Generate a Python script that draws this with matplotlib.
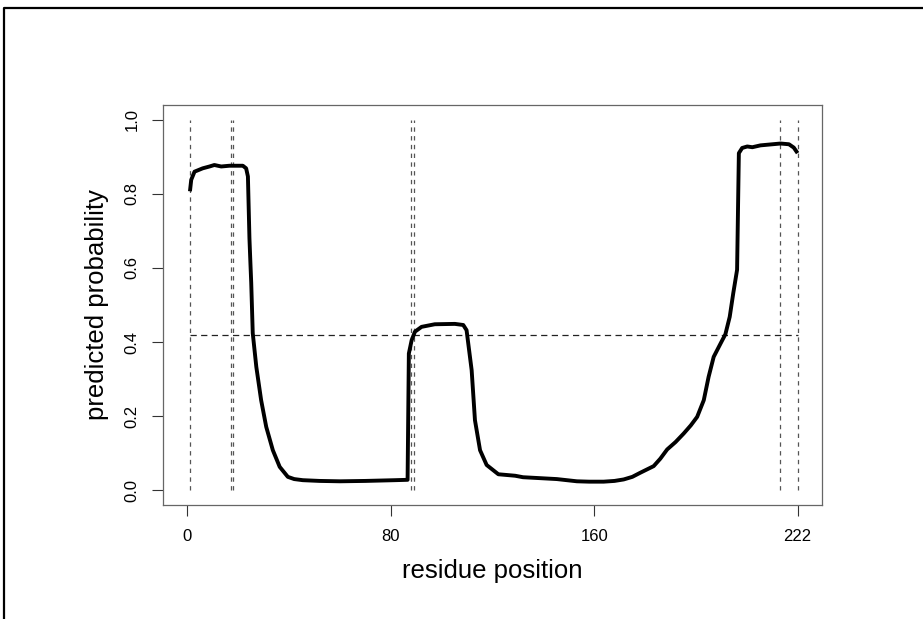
import matplotlib
matplotlib.use("Agg")
import matplotlib.pyplot as plt
from matplotlib.lines import Line2D

# residue positions and predicted probability
residue = [1, 1.5, 2.8, 6, 8.7, 10.6, 13.3, 16.5, 21.8, 23.1, 23.8, 24.4, 24.8,
           25.1, 25.7, 27.1, 29, 31, 33.6, 36.3, 39.5, 42, 45.4, 52, 60, 70,
           81.6, 86.6, 87.1, 88.2, 89.5, 92.1, 97.3, 105.2, 108.5, 109.8,
           111.8, 113.1, 115.1, 117.7, 122.3, 128.9, 132, 145.3, 153.2, 158,
           163.7, 168, 171.6, 175, 178.1, 183.4, 186, 188.7, 192, 195.2, 198,
           200.5, 203.1, 205, 207, 209.7, 211.6, 213.3, 214.7, 216.2, 216.9,
           218.2, 220.2, 222.2, 225.4, 233.3, 236.6, 238.5, 240]
prob = [0.807, 0.838, 0.860, 0.869, 0.874, 0.878, 0.874, 0.876, 0.876, 0.869,
        0.847, 0.68, 0.61, 0.56, 0.424, 0.333, 0.243, 0.171, 0.108, 0.063,
        0.036, 0.030, 0.027, 0.025, 0.024, 0.025, 0.027, 0.028, 0.369, 0.405,
        0.428, 0.441, 0.448, 0.449, 0.446, 0.432, 0.324, 0.189, 0.108, 0.068,
        0.043, 0.039, 0.035, 0.030, 0.024, 0.023, 0.023, 0.025, 0.029, 0.036,
        0.047, 0.065, 0.085, 0.11, 0.13, 0.153, 0.175, 0.198, 0.243, 0.306,
        0.36, 0.396, 0.421, 0.468, 0.532, 0.595, 0.91, 0.924, 0.928, 0.926,
        0.931, 0.936, 0.934, 0.925, 0.91]

# segment boundaries (vertical dashed lines) and threshold
boundaries = [1, 17, 18, 88, 89, 233, 240]
threshold = 0.42

xtick_pos = [0, 80, 160, 240]
xtick_labels = ["0", "80", "160", "222"]
ytick_pos = [0.0, 0.2, 0.4, 0.6, 0.8, 1.0]
ytick_labels = ["0.0", "0.2", "0.4", "0.6", "0.8", "1.0"]

plt.rcParams['font.family'] = ['Liberation Sans', 'DejaVu Sans']

W, H = 923, 619
fig = plt.figure(figsize=(W / 100, H / 100), dpi=100)
ax = fig.add_axes([163 / W, 1 - 505 / H, (822 - 163) / W, (505 - 105) / H])

for b in boundaries:
    ax.plot([b, b], [0, 1], color='#555555', lw=0.9, linestyle=(0, (3.5, 3.5)))
ax.plot([boundaries[0], boundaries[-1]], [threshold, threshold], color='#222222',
        lw=0.9, linestyle=(0, (5, 3.5)))

ax.plot(residue, prob, color='black', lw=2.8, solid_capstyle='butt',
        solid_joinstyle='round')

ax.set_xlim(-9.6, 249.6)
ax.set_ylim(-0.04, 1.04)
ax.set_xticks(xtick_pos)
ax.set_xticklabels(xtick_labels)
ax.set_yticks(ytick_pos)
ax.set_yticklabels(ytick_labels, rotation=90, va='center')
ax.tick_params(axis='both', direction='out', length=8, width=0.8,
               color='#333333', labelsize=12)
ax.tick_params(axis='x', pad=9)
ax.tick_params(axis='y', pad=9)
for s in ax.spines.values():
    s.set_color('#666666')
    s.set_linewidth(0.9)

ax.set_xlabel('residue position', fontsize=18.5, labelpad=11)
ax.set_ylabel('predicted probability', fontsize=18.5, labelpad=11)

# outer frame
fig.add_artist(Line2D([4 / W, 4 / W, 1.01], [-0.01, 1 - 8 / H, 1 - 8 / H],
                      transform=fig.transFigure, color='black', lw=1.6))

fig.savefig('out.png', dpi=100)
